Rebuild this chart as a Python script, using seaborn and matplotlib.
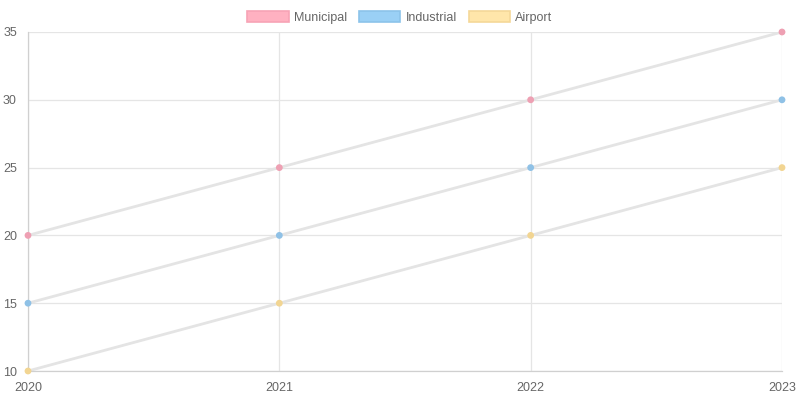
import pandas as pd
import numpy as np
import matplotlib.pyplot as plt
import seaborn as sns
from matplotlib.patches import Patch

sns.set_style('white')
plt.rcParams['font.family'] = ['Liberation Sans', 'DejaVu Sans']

# ===== Data =====
years = ['2020', '2021', '2022', '2023']
municipal = [20, 25, 30, 35]
industrial = [15, 20, 25, 30]
airport = [10, 15, 20, 25]

series = ['Municipal', 'Industrial', 'Airport']
fill_colors = ['#ffb1c1', '#9ad0f5', '#ffe6aa']
edge_colors = ['#f7a3b5', '#8cc3ea', '#f5d898']
point_colors = ['#eea0b3', '#8fc1e6', '#f2d592']

df = pd.DataFrame({
    'year': years * 3,
    'value': municipal + industrial + airport,
    'series': [s for s in series for _ in years],
})
df['x'] = df['year'].map({y: i for i, y in enumerate(years)})

# ===== Plot =====
fig = plt.figure(figsize=(8, 4), dpi=100)
ax = fig.add_axes([0.035, 0.0725, 0.9425, 0.8475])

sns.lineplot(data=df, x='x', y='value', hue='series', palette=['#e4e4e4'] * 3,
             linewidth=2.0, legend=False, ax=ax, zorder=2)
sns.scatterplot(data=df, x='x', y='value', hue='series', palette=point_colors,
                s=24, edgecolor='none', legend=False, ax=ax, zorder=3, clip_on=False)

ax.set_xlim(0, len(years) - 1)
ax.set_ylim(10, 35)
ax.set_xticks(range(len(years)))
ax.set_xticklabels(years)
ax.set_yticks(range(10, 36, 5))
ax.set_xlabel('')
ax.set_ylabel('')

ax.grid(True, color='#e5e5e5', linewidth=0.9)
ax.set_axisbelow(True)
for side in ['top', 'right']:
    ax.spines[side].set_visible(False)
for side in ['left', 'bottom']:
    ax.spines[side].set_color('#d0d0d0')
    ax.spines[side].set_linewidth(0.9)
ax.tick_params(axis='both', colors='#666666', labelsize=9, length=6, width=0.9,
               pad=2)
ax.tick_params(axis='both', color='#e5e5e5')

handles = [Patch(facecolor=f, edgecolor=e, linewidth=1.2, label=s)
           for s, f, e in zip(series, fill_colors, edge_colors)]
fig.legend(handles=handles, loc='upper center', bbox_to_anchor=(0.5, 1.0), ncol=3,
           frameon=False, fontsize=9, labelcolor='#666666', handlelength=3.3,
           handleheight=0.9, handletextpad=0.4, columnspacing=1.0)

fig.savefig('out.png', dpi=100)
